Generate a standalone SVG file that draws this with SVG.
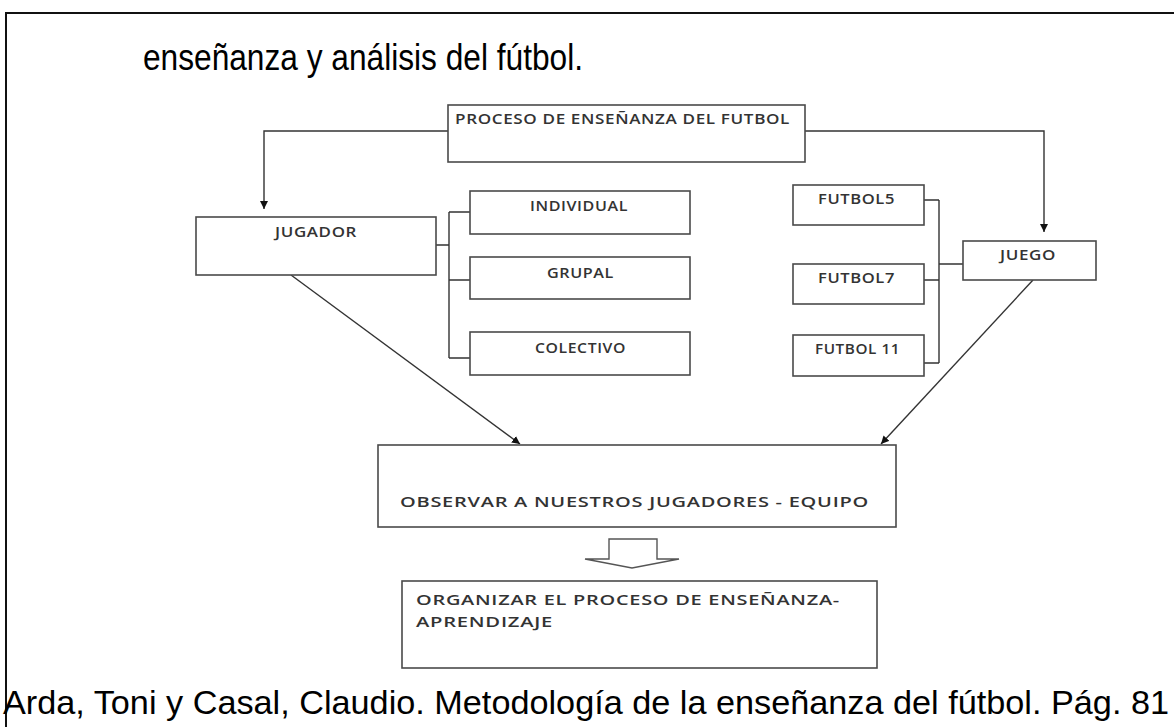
<svg xmlns="http://www.w3.org/2000/svg" width="1174" height="727" viewBox="0 0 1174 727">
<defs>
<style>
.box{fill:#fff;stroke:#4a4a4a;stroke-width:1.6}
.ln{fill:none;stroke:#333;stroke-width:1.4}
.lbl{font-family:"Open Sans","Liberation Sans",sans-serif;font-size:13.5px;font-weight:600;fill:#333;letter-spacing:0.5px}
.big{font-family:"Liberation Sans",Arial,sans-serif;fill:#000}
</style>
<marker id="ah" viewBox="0 0 10 10" refX="10" refY="5" markerWidth="8" markerHeight="8" markerUnits="userSpaceOnUse" orient="auto">
<path d="M0,0 L10,5 L0,10 Z" fill="#111"/>
</marker>
</defs>
<rect width="1174" height="727" fill="#fff"/>
<path d="M6,727 V13 H1174" fill="none" stroke="#111" stroke-width="2"/>
<text class="big" x="143" y="70" font-size="36" textLength="440" lengthAdjust="spacingAndGlyphs">enseñanza y análisis del fútbol.</text>

<g id="connectors">
<polyline class="ln" points="448,131 264,131 264,209" marker-end="url(#ah)"/>
<polyline class="ln" points="805,131 1044,131 1044,232" marker-end="url(#ah)"/>
<path class="ln" d="M436,245 H449 M449,212 V358 M449,212 H470 M449,280 H470 M449,358 H470"/>
<path class="ln" d="M924,200 H939 M924,280 H939 M924,363 H939 M939,200 V363 M939,264 H963"/>
<line class="ln" x1="291" y1="275" x2="520" y2="444" marker-end="url(#ah)"/>
<line class="ln" x1="1033" y1="280" x2="881" y2="444" marker-end="url(#ah)"/>
</g>

<g id="proceso"><rect class="box" x="448" y="105" width="357" height="57"/>
<text class="lbl" x="455" y="124" font-size="11" textLength="335" lengthAdjust="spacingAndGlyphs">PROCESO DE ENSEÑANZA DEL FUTBOL</text></g>
<g id="jugador"><rect class="box" x="196" y="217" width="240" height="58"/>
<text class="lbl" x="275" y="237" textLength="82" lengthAdjust="spacingAndGlyphs">JUGADOR</text></g>
<g id="individual"><rect class="box" x="470" y="191" width="220" height="43"/>
<text class="lbl" x="530" y="211" textLength="98" lengthAdjust="spacingAndGlyphs">INDIVIDUAL</text></g>
<g id="grupal"><rect class="box" x="470" y="257" width="220" height="42"/>
<text class="lbl" x="547" y="278" textLength="67" lengthAdjust="spacingAndGlyphs">GRUPAL</text></g>
<g id="colectivo"><rect class="box" x="470" y="332" width="220" height="43"/>
<text class="lbl" x="535" y="353" textLength="91" lengthAdjust="spacingAndGlyphs">COLECTIVO</text></g>
<g id="futbol5"><rect class="box" x="793" y="185" width="131" height="40"/>
<text class="lbl" x="818" y="204" textLength="77" lengthAdjust="spacingAndGlyphs">FUTBOL5</text></g>
<g id="futbol7"><rect class="box" x="793" y="264" width="131" height="40"/>
<text class="lbl" x="818" y="283" textLength="77" lengthAdjust="spacingAndGlyphs">FUTBOL7</text></g>
<g id="futbol11"><rect class="box" x="793" y="335" width="131" height="41"/>
<text class="lbl" x="815" y="354" textLength="85" lengthAdjust="spacingAndGlyphs">FUTBOL 11</text></g>
<g id="juego"><rect class="box" x="963" y="241" width="133" height="39"/>
<text class="lbl" x="1000" y="260" textLength="56" lengthAdjust="spacingAndGlyphs">JUEGO</text></g>
<g id="observar"><rect class="box" x="378" y="445" width="518" height="82"/>
<text class="lbl" x="400" y="507" font-size="16.5" textLength="469" lengthAdjust="spacingAndGlyphs">OBSERVAR A NUESTROS JUGADORES - EQUIPO</text></g>
<g id="flecha"><path d="M609,539 H657 V559 H679 L632,568 L585,559 H609 Z" fill="#fff" stroke="#555" stroke-width="1.4"/></g>
<g id="organizar"><rect class="box" x="402" y="581" width="475" height="87"/>
<text class="lbl" x="416" y="605" font-size="16.5" textLength="424" lengthAdjust="spacingAndGlyphs">ORGANIZAR EL PROCESO DE ENSEÑANZA-</text>
<text class="lbl" x="416" y="627" font-size="16.5" textLength="137" lengthAdjust="spacingAndGlyphs">APRENDIZAJE</text></g>

<text class="big" x="3" y="714" font-size="34" textLength="1166" lengthAdjust="spacingAndGlyphs">Arda, Toni y Casal, Claudio. Metodología de la enseñanza del fútbol. Pág. 81</text>
</svg>
